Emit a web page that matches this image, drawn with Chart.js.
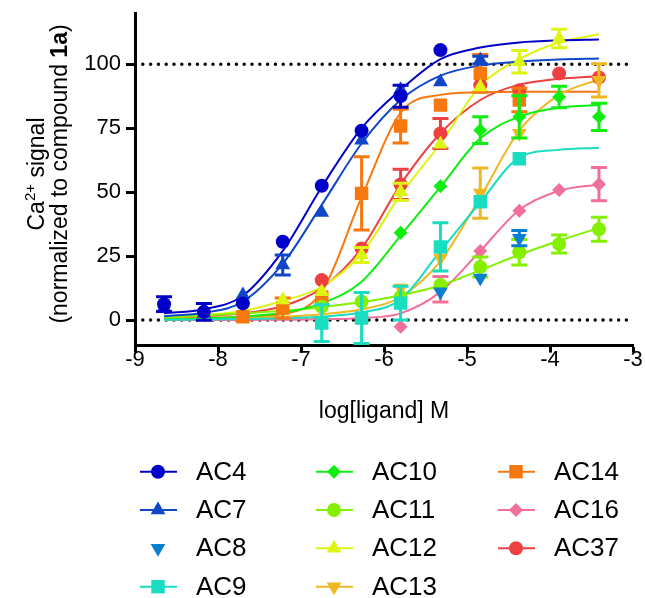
<!DOCTYPE html>
<html>
<head>
<meta charset="utf-8">
<script src="https://cdn.jsdelivr.net/npm/chart.js@4/dist/chart.umd.min.js"></script>
<style>
  html, body { margin: 0; padding: 0; background: #fff; }
</style>
</head>
<body>
<canvas id="chart" width="645" height="598"></canvas>
<script>
// log[ligand] of each dilution step
const logConc = [-8.65, -8.17, -7.70, -7.22, -6.75, -6.27, -5.80, -5.32, -4.84, -4.37, -3.89, -3.41];
const xTicks = [-9, -8, -7, -6, -5, -4, -3];
const yTicks = [0, 25, 50, 75, 100];
const refLevels = [0, 100];

const names = ["AC4", "AC7", "AC8", "AC9", "AC10", "AC11", "AC12", "AC13", "AC14", "AC16", "AC37"];

// mean, error (SEM) and fitted curve read at each logConc
const ac4Mean = [6.2, 3.2, 6.5, 30.6, 52.5, 74, 87.5, 105.5, null, null, null, null];
const ac4Err  = [2.9, 3.3, 0, 0, 0, 0, 4.3, 0, null, null, null, null];
const ac4Fit  = [2.6, 4.2, 9.5, 27, 52, 75, 90, 102, 106.5, 108.5, 109.3, 109.6];

const ac7Mean = [5, 2.5, 9.8, 21.5, 42, 70.3, 90, 93, 101.6, null, null, null];
const ac7Err  = [0, 0, 0, 3.9, 0, 0, 0, 0, 1.5, null, null, null];
const ac7Fit  = [1.5, 2.8, 7.2, 22, 45, 69, 86, 95.5, 99.5, 101, 101.8, 102.2];

const ac8Mean = [null, null, null, null, null, null, null, 11, 16.4, 32, null, null];
const ac8Err  = [null, null, null, null, null, null, null, 0, 0, 3, null, null];

const ac9Mean = [null, null, null, null, -1.2, 0.8, 6.6, 28.6, 46.2, 63, null, null];
const ac9Err  = [null, null, null, null, 7.2, 10, 6.6, 9.4, 0, 0, null, null];
const ac9Fit  = [0.1, 0.2, 0.4, 0.7, 1.3, 3, 8, 27, 46, 63.5, 66.5, 67.3];

const ac10Mean = [null, null, null, null, null, null, 34.1, 52.3, 74.2, 79.4, 87.2, 79.4];
const ac10Err  = [null, null, null, null, null, null, 0, 0, 5.2, 8.3, 4.2, 5.3];
const ac10Fit  = [0.3, 0.6, 1.3, 2.8, 6.5, 15, 33, 52, 71, 79.5, 83, 84];

const ac11Mean = [null, null, null, null, 5.2, 7.2, 9, 13.7, 20.7, 26.5, 29.7, 35.5];
const ac11Err  = [null, null, null, null, 0, 0, 0, 0, 3.9, 5, 3.5, 4.7];
const ac11Fit  = [1.2, 1.8, 2.6, 3.6, 5, 7, 9.7, 13.5, 19.5, 25.5, 31, 36];

const ac12Mean = [null, null, null, 7.8, 11, 25.4, 50.1, 68.7, 91.1, 100.9, 110, null];
const ac12Err  = [null, null, null, 0, 0, 2.9, 3.4, 0, 0, 4.4, 3.6, null];
const ac12Fit  = [1, 2, 3.5, 7.5, 13, 26, 49, 69, 91.5, 102, 108.5, 111.7];

const ac13Mean = [null, null, null, null, null, null, 12.5, 24.2, 49.6, 73, null, 93.7];
const ac13Err  = [null, null, null, null, null, null, 0, 0, 9.8, 0, null, 6.5];
const ac13Fit  = [0.3, 0.5, 0.8, 1.3, 2.3, 4.2, 9, 23, 48, 74, 88, 94];

const ac14Mean = [null, null, 1.3, 4.7, 9, 49.5, 75.8, 84, 96.4, 86, null, null];
const ac14Err  = [null, null, 0, 3.9, 0, 14.3, 6.6, 0, 7.4, 4.6, null, null];
const ac14Fit  = [1, 1, 1.2, 2.3, 11, 48, 81, 88, 89, 89.2, 89.2, 89.2];

const ac16Mean = [null, null, null, null, null, null, -2.6, 12, 27, 42.7, 50.8, 53.1];
const ac16Err  = [null, null, null, null, null, null, 0, 5, 0, 0, 0, 6.5];
const ac16Fit  = [0, 0, 0, 0.1, 0.3, 0.8, 2.6, 11, 27, 43, 50.5, 53];

const ac37Mean = [null, null, null, null, 15.6, 28, 53, 72.9, 91.8, 89.8, 96.4, 94.8];
const ac37Err  = [null, null, null, null, 0, 0, 5.9, 5.9, 0, 0, 0, 0];
const ac37Fit  = [1.2, 1.6, 2.6, 5.5, 12.5, 28, 53, 73, 86, 92, 94.3, 95.3];

const means = [ac4Mean, ac7Mean, ac8Mean, ac9Mean, ac10Mean, ac11Mean, ac12Mean, ac13Mean, ac14Mean, ac16Mean, ac37Mean];
const errs  = [ac4Err, ac7Err, ac8Err, ac9Err, ac10Err, ac11Err, ac12Err, ac13Err, ac14Err, ac16Err, ac37Err];
const fits  = [ac4Fit, ac7Fit, null, ac9Fit, ac10Fit, ac11Fit, ac12Fit, ac13Fit, ac14Fit, ac16Fit, ac37Fit];

const colors = ["#0000c8", "#1046c8", "#0a7fd0", "#19dcc0", "#10ee10", "#84f000", "#ddf510", "#f0b820", "#f87810", "#f0709a", "#ee4040"];
const shapes = ["circle", "triangle", "triangle", "rect", "rectRot", "circle", "triangle", "triangle", "rect", "rectRot", "circle"];
const rotations = [0, 0, 180, 0, 0, 0, 0, 180, 0, 0, 0];
const radii = [7, 8.5, 8.5, 9.5, 7, 7, 8.5, 8.5, 9.5, 7, 7];

const FONT = "'Liberation Sans', Arial, Helvetica, sans-serif";

// points on top (order 1), fitted curves under them, reference lines at the bottom
const datasets = [];
names.forEach(function (name, i) {
    const pts = [], e = [];
    logConc.forEach(function (x, j) {
        if (means[i][j] !== null) {
            pts.push({ x: x, y: means[i][j] });
            e.push(errs[i][j] || 0);
        }
    });
    datasets.push({
        label: name,
        data: pts,
        errors: e,
        showLine: false,
        pointStyle: shapes[i],
        pointRotation: rotations[i],
        pointRadius: radii[i],
        backgroundColor: colors[i],
        borderColor: colors[i],
        pointBorderWidth: 0,
        order: 1
    });
});
names.forEach(function (name, i) {
    if (!fits[i]) return;
    datasets.push({
        label: name + " fit",
        data: logConc.map(function (x, j) { return { x: x, y: fits[i][j] }; }),
        borderColor: colors[i],
        borderWidth: 2,
        pointRadius: 0,
        cubicInterpolationMode: "monotone",
        order: 2
    });
});
refLevels.forEach(function (lv) {
    datasets.push({
        label: "ref " + lv,
        data: [{ x: xTicks[0], y: lv }, { x: xTicks[xTicks.length - 1], y: lv }],
        borderColor: "#000",
        borderWidth: 3.5,
        borderDash: [0, 7.8],
        borderCapStyle: "round",
        pointRadius: 0,
        order: 3
    });
});

const errorBars = {
    id: "errorBars",
    beforeDatasetDraw: function (chart, args) {
        const ds = chart.data.datasets[args.index];
        if (!ds.errors) return;
        const ctx = chart.ctx;
        const yScale = chart.scales.y;
        ctx.save();
        ctx.strokeStyle = ds.borderColor;
        ctx.lineWidth = 3;
        args.meta.data.forEach(function (pt, j) {
            const err = ds.errors[j];
            if (!err) return;
            const v = ds.data[j].y;
            const top = yScale.getPixelForValue(v + err);
            const bot = yScale.getPixelForValue(v - err);
            ctx.beginPath();
            ctx.moveTo(pt.x, top); ctx.lineTo(pt.x, bot);
            ctx.moveTo(pt.x - 8, top); ctx.lineTo(pt.x + 8, top);
            ctx.moveTo(pt.x - 8, bot); ctx.lineTo(pt.x + 8, bot);
            ctx.stroke();
        });
        ctx.restore();
    }
};

function drawRich(ctx, parts, x, y) {
    let total = 0;
    parts.forEach(function (p) { ctx.font = p.font; total += ctx.measureText(p.text).width; });
    let cx = x - total / 2;
    parts.forEach(function (p) {
        ctx.font = p.font;
        ctx.fillText(p.text, cx, y - (p.rise || 0));
        cx += ctx.measureText(p.text).width;
    });
}

const annotations = {
    id: "annotations",
    afterDraw: function (chart) {
        const ctx = chart.ctx;
        const area = chart.chartArea;
        ctx.save();
        ctx.fillStyle = "#000";
        ctx.textBaseline = "alphabetic";
        ctx.textAlign = "left";

        // y axis title
        const cy = 174;
        ctx.save();
        ctx.translate(44, cy);
        ctx.rotate(-Math.PI / 2);
        drawRich(ctx, [
            { text: "Ca", font: "23px " + FONT },
            { text: "2+", font: "15px " + FONT, rise: 9 },
            { text: " signal", font: "23px " + FONT }
        ], 0, 0);
        ctx.restore();
        ctx.save();
        ctx.translate(67, cy);
        ctx.rotate(-Math.PI / 2);
        drawRich(ctx, [
            { text: "(normalized to compound ", font: "23px " + FONT },
            { text: "1a", font: "bold 23px " + FONT },
            { text: ")", font: "23px " + FONT }
        ], 0, 0);
        ctx.restore();

        // x axis title
        ctx.textAlign = "center";
        ctx.textBaseline = "middle";
        ctx.font = "23px " + FONT;
        ctx.fillText("log[ligand] M", (area.left + area.right) / 2, 412);

        // legend, three columns filled top to bottom
        const colX = [140, 316, 498];
        const rowY = [471.7, 510, 548.3, 586.7];
        ctx.font = "26px " + FONT;
        ctx.textAlign = "left";
        names.forEach(function (name, i) {
            const col = i < 4 ? 0 : (i < 8 ? 1 : 2);
            const row = i < 4 ? i : (i < 8 ? i - 4 : i - 8);
            const x0 = colX[col], y0 = rowY[row];
            ctx.strokeStyle = colors[i];
            ctx.fillStyle = colors[i];
            if (fits[i]) {
                ctx.lineWidth = 2;
                ctx.beginPath();
                ctx.moveTo(x0, y0); ctx.lineTo(x0 + 37, y0);
                ctx.stroke();
            }
            Chart.helpers.drawPoint(ctx, {
                pointStyle: shapes[i], rotation: rotations[i], radius: radii[i], borderWidth: 0
            }, x0 + 18, y0);
            ctx.fillStyle = "#000";
            ctx.fillText(name, x0 + 56, y0 + 1);
        });
        ctx.restore();
    }
};

new Chart(document.getElementById("chart").getContext("2d"), {
    type: "line",
    data: { datasets: datasets },
    options: {
        responsive: false,
        animation: false,
        devicePixelRatio: 1,
        layout: { padding: { left: 0, right: 12, top: 13, bottom: 212.4 } },
        plugins: { legend: { display: false }, tooltip: { enabled: false } },
        scales: {
            x: {
                type: "linear",
                min: -9, max: -3,
                afterBuildTicks: function (s) { s.ticks = xTicks.map(function (v) { return { value: v }; }); },
                afterFit: function (s) { s.height = 40; s.paddingLeft = 0; s.paddingRight = 0; },
                grid: { drawOnChartArea: false, drawTicks: true, tickLength: 7, tickWidth: 3, tickColor: "#000" },
                border: { display: true, width: 3, color: "#000" },
                ticks: { color: "#000", padding: -6, maxRotation: 0, font: { family: FONT, size: 22 } }
            },
            y: {
                type: "linear",
                min: -10, max: 120,
                afterBuildTicks: function (s) { s.ticks = yTicks.map(function (v) { return { value: v }; }); },
                afterFit: function (s) { s.width = 135; s.paddingTop = 0; s.paddingBottom = 0; },
                grid: { drawOnChartArea: false, drawTicks: true, tickLength: 9, tickWidth: 3, tickColor: "#000" },
                border: { display: true, width: 3, color: "#000" },
                ticks: { color: "#000", padding: 5, font: { family: FONT, size: 22 } }
            }
        }
    },
    plugins: [errorBars, annotations]
});
</script>
</body>
</html>
